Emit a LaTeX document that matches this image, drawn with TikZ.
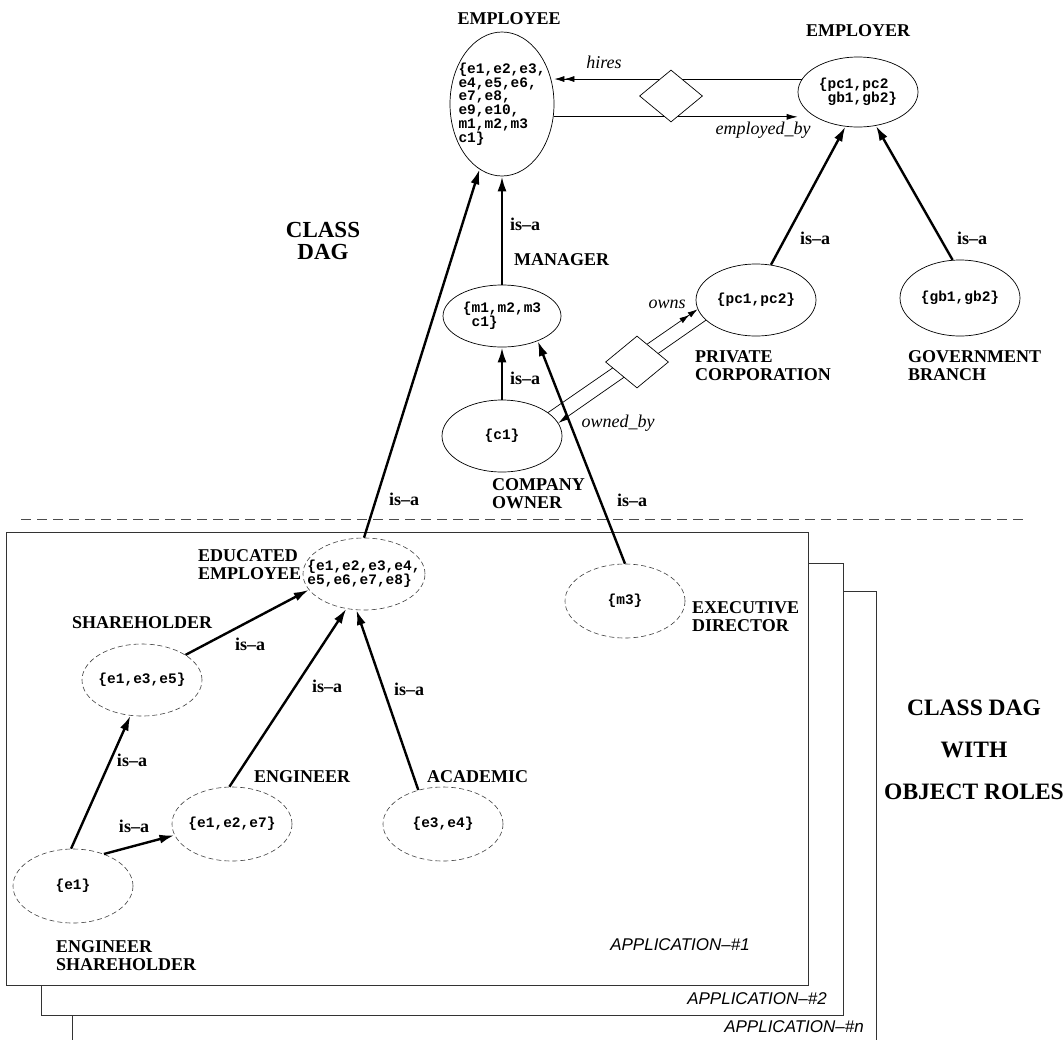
\documentclass[tikz,border=0pt]{standalone}
\usepackage{fontspec}
\setmainfont{Liberation Serif}
\newfontfamily\setfnt{Liberation Mono}
\newfontfamily\appfnt{Liberation Sans}
\usetikzlibrary{shapes.geometric,arrows.meta}
\newcommand\setfont{\setfnt\bfseries\fontsize{14.5}{13.8}\selectfont\lineskiplimit -20pt\relax}

\tikzstyle{cls}=[ellipse, draw, line width=0.7pt, inner sep=-30pt, align=left, font=\setfont]
\tikzstyle{rolecls}=[cls, draw=black!75, dash pattern=on 5pt off 3pt, line width=0.6pt]
\tikzstyle{rel}=[diamond, draw, line width=0.7pt, fill=white, minimum width=63pt, minimum height=52pt, inner sep=0pt]
\tikzstyle{clsname}=[inner sep=0pt, align=left, font=\bfseries\fontsize{18}{18}\selectfont]
\tikzstyle{isalbl}=[inner sep=0pt, font=\bfseries\fontsize{18}{18}\selectfont]
\tikzstyle{rellbl}=[inner sep=0pt, font=\itshape\fontsize{18}{18}\selectfont]
\tikzstyle{applbl}=[inner sep=0pt, anchor=east, font=\appfnt\itshape\fontsize{17}{17}\selectfont]
\tikzstyle{dagtitle}=[inner sep=0pt, align=center, font=\bfseries\fontsize{23}{22}\selectfont]
\tikzstyle{isa}=[-{Latex[length=15pt,width=9pt]}, line width=2.4pt]
\tikzstyle{rolearrow}=[-{Latex[length=11pt,width=6pt]}, line width=0.7pt]
\tikzstyle{rolearrow2}=[-{Latex[length=10pt,width=6pt]Latex[length=10pt,width=6pt]}, line width=0.7pt]
\tikzstyle{apppage}=[draw=black!80, line width=0.8pt, fill=white]

\begin{document}
\begin{tikzpicture}[x=1pt, y=-1pt]
  \useasboundingbox (0,0) rectangle (1064,1039);
  % application pages
  \draw[apppage] (72,1045) |- (876,591) -- (876,1045);
  \draw[apppage] (41,563) rectangle (843,1015);
  \draw[apppage] (6,532) rectangle (808,985);
  \draw[dash pattern=on 10pt off 6pt, line width=0.7pt, draw=black!70] (21,519) -- (1025,519);

  % class dag
  \node[cls, minimum width=104pt, minimum height=144pt] (emp) at (502,104) {\{e1,e2,e3,\\e4,e5,e6,\\e7,e8,\\e9,e10,\\m1,m2,m3\\c1\}};
  \node[cls, minimum width=120pt, minimum height=70pt] (emr) at (858,92) {\{pc1,pc2\\~gb1,gb2\}};
  \node[cls, minimum width=118pt, minimum height=62pt] (mgr) at (502,316) {\{m1,m2,m3\\~c1\}};
  \node[cls, minimum width=120pt, minimum height=72pt] (cown) at (502,436) {\{c1\}};
  \node[cls, minimum width=120pt, minimum height=72pt] (pcorp) at (756,300) {\{pc1,pc2\}};
  \node[cls, minimum width=120pt, minimum height=76pt] (gbranch) at (960,298) {\{gb1,gb2\}};

  \node[clsname] (emp-name) at (509,19) {EMPLOYEE};
  \node[clsname] (emr-name) at (858,31) {EMPLOYER};
  \node[clsname, anchor=west] (mgr-name) at (514,260) {MANAGER};
  \node[clsname, anchor=west] (cown-name) at (492,494) {COMPANY\\OWNER};
  \node[clsname, anchor=west] (pcorp-name) at (695,366) {PRIVATE\\CORPORATION};
  \node[clsname, anchor=west] (gbranch-name) at (908,366) {GOVERNMENT\\BRANCH};
  \node[dagtitle] (dag-title) at (323,241) {CLASS\\DAG};

  \draw[rolearrow2] (emr.167) -- (emr.167 -| emp.east);
  \draw[rolearrow] (emp.-14) -- (emp.-14 -| emr.west);
  \node[rel] (hiring) at (671,96) {};
  \node[rellbl] (hires) at (604,62) {hires};
  \node[rellbl] (employed) at (763,130) {employed\_by};

  \draw[rolearrow2] (cown.27) -- (pcorp.189);
  \draw[rolearrow] (pcorp.202) -- (cown.13);
  \node[rel] (owning) at (637,362) {};
  \node[rellbl] (owns) at (667,304) {owns};
  \node[rellbl] (owned) at (618,423) {owned\_by};

  \draw[isa] (mgr) -- (emp);
  \draw[isa] (cown) -- (mgr);
  \draw[isa] (pcorp.67) -- (emr.250);
  \draw[isa] (gbranch.101) -- (emr.298);
  \node[isalbl, anchor=west] (isa1) at (510,224) {is\textendash{}a};
  \node[isalbl, anchor=west] (isa2) at (510,378) {is\textendash{}a};
  \node[isalbl] (isa3) at (815,238) {is\textendash{}a};
  \node[isalbl] (isa4) at (972,238) {is\textendash{}a};

  % object roles
  \node[rolecls, minimum width=122pt, minimum height=72pt] (edu) at (364,574) {\{e1,e2,e3,e4,\\e5,e6,e7,e8\}};
  \node[rolecls, minimum width=120pt, minimum height=72pt] (shh) at (142,680) {\{e1,e3,e5\}};
  \node[rolecls, minimum width=120pt, minimum height=74pt] (eng) at (232,824) {\{e1,e2,e7\}};
  \node[rolecls, minimum width=120pt, minimum height=74pt] (acad) at (443,824) {\{e3,e4\}};
  \node[rolecls, minimum width=120pt, minimum height=74pt] (engsh) at (73,886) {\{e1\}};
  \node[rolecls, minimum width=120pt, minimum height=74pt] (exdir) at (625,601) {\{m3\}};

  \node[clsname, anchor=west] (edu-name) at (198,565) {EDUCATED\\EMPLOYEE};
  \node[clsname, anchor=west] (shh-name) at (72,623) {SHAREHOLDER};
  \node[clsname, anchor=west] (eng-name) at (254,777) {ENGINEER};
  \node[clsname, anchor=west] (acad-name) at (427,777) {ACADEMIC};
  \node[clsname, anchor=west] (engsh-name) at (56,956) {ENGINEER\\SHAREHOLDER};
  \node[clsname, anchor=west] (exdir-name) at (692,617) {EXECUTIVE\\DIRECTOR};

  \draw[isa] (edu.90) -- (emp.251);
  \draw[isa] (exdir.90) -- (mgr.325);
  \draw[isa] (shh.30) -- (edu.196);
  \draw[isa] (eng.94) -- (edu.243);
  \draw[isa] (acad.126) -- (edu.258);
  \draw[isa] (engsh.93) -- (shh.252);
  \draw[isa] (engsh.46) -- (eng.191);
  \node[isalbl] (isa5) at (404,499) {is\textendash{}a};
  \node[isalbl] (isa6) at (632,500) {is\textendash{}a};
  \node[isalbl] (isa7) at (250,644) {is\textendash{}a};
  \node[isalbl] (isa8) at (327,686) {is\textendash{}a};
  \node[isalbl] (isa9) at (409,689) {is\textendash{}a};
  \node[isalbl] (isa10) at (132,760) {is\textendash{}a};
  \node[isalbl] (isa11) at (134,826) {is\textendash{}a};

  \node[applbl] (app1) at (750,945) {APPLICATION\textendash\#1};
  \node[applbl] (app2) at (827,999) {APPLICATION\textendash\#2};
  \node[applbl] (appn) at (864,1027) {APPLICATION\textendash\#n};
  \node[dagtitle, font=\bfseries\fontsize{23.5}{42}\selectfont] (roles-title) at (974,750) {CLASS DAG\\WITH\\OBJECT ROLES};
\end{tikzpicture}
\end{document}
